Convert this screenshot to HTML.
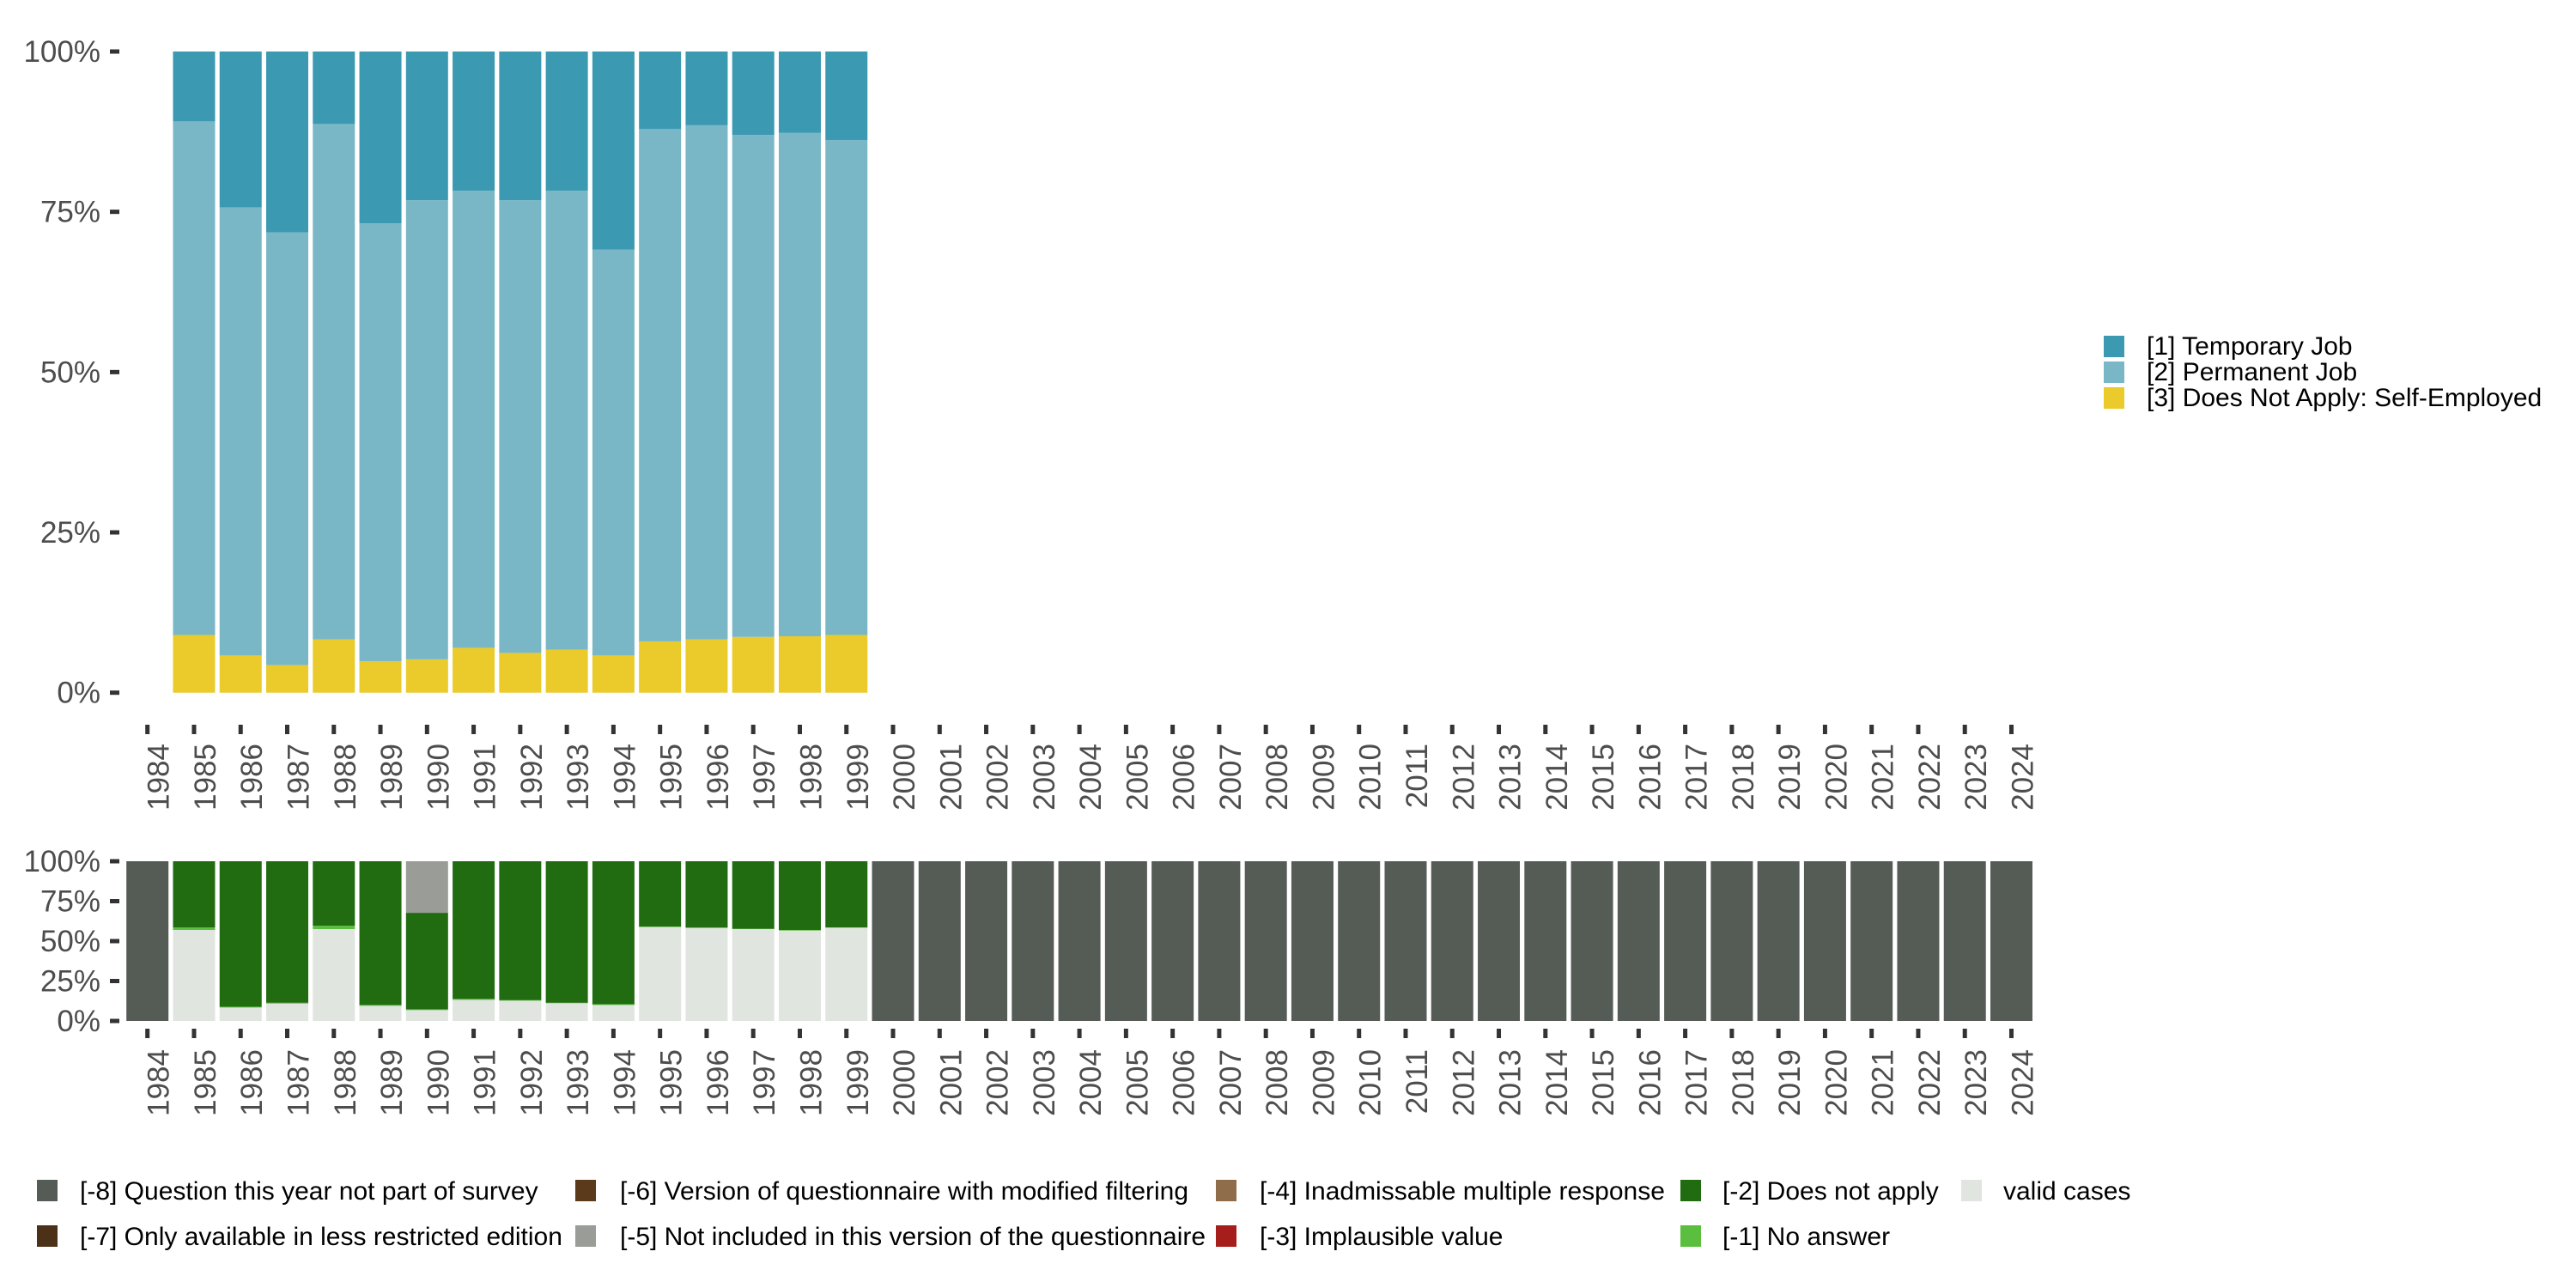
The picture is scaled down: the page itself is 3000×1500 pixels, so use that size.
<!DOCTYPE html>
<html><head><meta charset="utf-8"><style>
body{margin:0;background:#fff;}
svg{display:block;font-family:"Liberation Sans",sans-serif;}
</style></head><body>
<svg id="chart" width="3000" height="1500" viewBox="0 0 3000 1500" xmlns="http://www.w3.org/2000/svg">
<g id="topPanel"></g>
<g id="botPanel"></g>
<g id="legTop"></g>
<g id="legBot"></g>
</svg>
<script>
const years = [];
for (let y = 1984; y <= 2024; y++) years.push(y);
const dataYears = [1985,1986,1987,1988,1989,1990,1991,1992,1993,1994,1995,1996,1997,1998,1999];
const selfEmployed = [9.0,5.8,4.3,8.3,4.9,5.2,7.0,6.2,6.7,5.8,8.0,8.3,8.7,8.8,9.0];
const permanentTop = [89.1,75.7,71.8,88.7,73.2,76.8,78.3,76.8,78.3,69.1,87.9,88.5,87.0,87.3,86.2];
const validCases = [57.0,8.4,10.9,57.5,9.5,6.8,13.2,12.7,11.1,10.0,58.8,58.2,57.5,56.6,58.4];
const noAnswerTop = [58.6,8.9,11.4,59.6,10.0,7.3,13.8,13.0,11.4,10.5,59.1,58.6,57.7,57.0,58.6];
const doesNotApplyTop = [100,100,100,100,100,67.7,100,100,100,100,100,100,100,100,100];
const yTicks = [0,25,50,75,100];
const yTickLabels = ["0%","25%","50%","75%","100%"];

const NS = "http://www.w3.org/2000/svg";
function el(tag, attrs, parent){const e=document.createElementNS(NS,tag);for(const k in attrs)e.setAttribute(k,attrs[k]);parent.appendChild(e);return e;}
const step = 54.27, x0 = 171.7, bw = 49;
function xScale(year){return x0 + (year-1984)*step;}
function yTopScale(v){return 806.7 - v/100*746.7;}
function yBotScale(v){return 1189 - v/100*186;}

function axes(g, ys, tickY, labY){
  yTicks.forEach((t,i)=>{
    const y = ys(t);
    const tk = el('rect',{x:128,y:y-2.5,width:11,height:5,fill:'#333'},g);
    
    
    const tx = el('text',{x:117,y:y+12,'text-anchor':'end','font-size':35,fill:'#4d4d4d'},g);
    
    
    tx.textContent = yTickLabels[i];
  });
  years.forEach(yr=>{
    const x = xScale(yr);
    const tk = el('rect',{x:x-2.5,y:tickY,width:5,height:11,fill:'#333'},g);
    
    
    const tx = el('text',{x:0,y:0,'text-anchor':'end','font-size':35,fill:'#4d4d4d',transform:`translate(${x+25},${labY}) rotate(-90)`},g);
    
    
    tx.textContent = yr;
  });
}
function bar(g, yr, lo, hi, ys, color, name){
  if (hi-lo <= 0) return;
  const r = el('rect',{x:xScale(yr)-bw/2,y:ys(hi),width:bw,height:ys(lo)-ys(hi),fill:color},g);
  
  
}
const topG = document.getElementById('topPanel');
dataYears.forEach((yr,i)=>{
  bar(topG,yr,0,selfEmployed[i],yTopScale,'#EACB2B','bar-self-employed');
  bar(topG,yr,selfEmployed[i],permanentTop[i],yTopScale,'#7AB7C6','bar-permanent-job');
  bar(topG,yr,permanentTop[i],100,yTopScale,'#3B99B1','bar-temporary-job');
});
axes(topG, yTopScale, 844, 866);

const botG = document.getElementById('botPanel');
years.forEach(yr=>{
  const i = dataYears.indexOf(yr);
  if (i < 0){ bar(botG,yr,0,100,yBotScale,'#555B55','bar-not-part-of-survey'); return; }
  bar(botG,yr,0,validCases[i],yBotScale,'#E1E5E0','bar-valid-cases');
  bar(botG,yr,validCases[i],noAnswerTop[i],yBotScale,'#5ABF3F','bar-no-answer');
  bar(botG,yr,noAnswerTop[i],doesNotApplyTop[i],yBotScale,'#216C11','bar-does-not-apply');
  bar(botG,yr,doesNotApplyTop[i],100,yBotScale,'#999C97','bar-not-included');
});
axes(botG, yBotScale, 1198, 1222);

const legTopItems = [["[1] Temporary Job","#3B99B1"],["[2] Permanent Job","#7AB7C6"],["[3] Does Not Apply: Self-Employed","#EACB2B"]];
const lt = document.getElementById('legTop');
legTopItems.forEach((it,i)=>{
  const y = 391 + i*30;
  const k = el('rect',{x:2450,y:y,width:24,height:25,fill:it[1]},lt);
  
  
  const t = el('text',{x:2500,y:y+22,'font-size':30,fill:'#000'},lt);
  
  
  t.textContent = it[0];
});
const legBotItems = [
 [43,93,1374,"[-8] Question this year not part of survey","#555B55"],
 [43,93,1427,"[-7] Only available in less restricted edition","#4A3118"],
 [670,722,1374,"[-6] Version of questionnaire with modified filtering","#5A3A1B"],
 [670,722,1427,"[-5] Not included in this version of the questionnaire","#999C97"],
 [1416,1467,1374,"[-4] Inadmissable multiple response","#8F6D4A"],
 [1416,1467,1427,"[-3] Implausible value","#A61E1B"],
 [1957,2006,1374,"[-2] Does not apply","#216C11"],
 [1957,2006,1427,"[-1] No answer","#5ABF3F"],
 [2284,2333,1374,"valid cases","#E1E5E0"]
];
const lb = document.getElementById('legBot');
legBotItems.forEach(it=>{
  const t = el('text',{x:it[1],y:it[2]+23,'font-size':30,fill:'#000'},lb);
  
  
  t.textContent = it[3];
});
legBotItems.forEach(it=>{
  const k = el('rect',{x:it[0],y:it[2],width:24,height:25,fill:it[4]},lb);
  
  
});
</script>
</body></html>
